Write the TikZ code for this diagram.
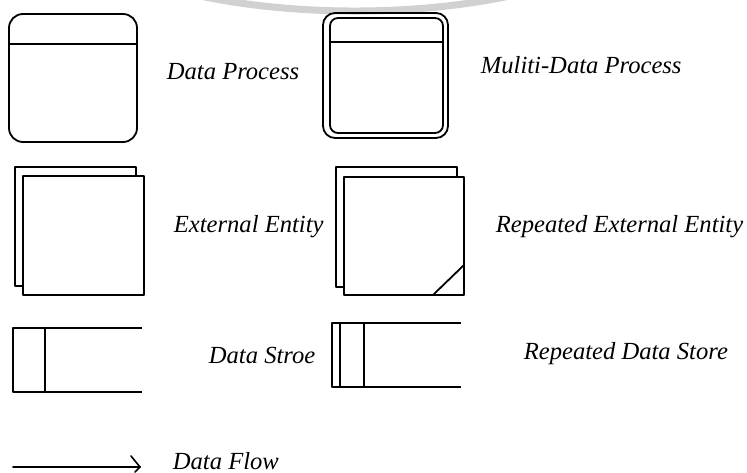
\documentclass[tikz,border=0pt]{standalone}
\usepackage{fontspec}
\setmainfont{Liberation Serif}
\begin{document}
\begin{tikzpicture}[x=1pt,y=-1pt,line width=1.8pt,line join=round,
  lbl/.style={font=\fontsize{24.6}{28}\selectfont\itshape,anchor=base west,inner sep=0pt},
  shapebox/.style={draw=black,fill=white}]
\useasboundingbox (0,0) rectangle (747,473);
\clip (0,0) rectangle (747,473);
% faint watermark arc
\draw[black!18,line width=7pt] (355,-80) ++(20:281 and 91) arc[start angle=20,end angle=160,x radius=281,y radius=91];
% Data Process
\draw[rounded corners=14pt] (9,14) rectangle (137,142);
\draw (9,44) -- (137,44);
\node[lbl] (tdp) at (166,80) {Data Process};
% Multi-Data Process
\draw[rounded corners=12pt] (323,13) rectangle (448,138);
\draw[rounded corners=8pt] (330,18) rectangle (443,133);
\draw (330,42) -- (443,42);
\node[lbl] (tmdp) at (480,74) {Muliti-Data Process};
% External Entity
\draw[shapebox] (15,167) rectangle (136,286);
\draw[shapebox] (23,176) rectangle (144,295);
\node[lbl] (tee) at (173,233) {External Entity};
% Repeated External Entity
\draw[shapebox] (336,167) rectangle (457,287);
\draw[shapebox] (344,177) rectangle (464,295);
\draw (433,295) -- (464,265);
\node[lbl] (tree) at (495,233) {Repeated External Entity};
% Data Store
\draw (142,328) -- (13,328) -- (13,392) -- (142,392);
\draw (45,328) -- (45,392);
\node[lbl] (tds) at (208,363) {Data Stroe};
% Repeated Data Store
\draw (461,323) -- (332,323) -- (332,387) -- (461,387);
\draw (340,323) -- (340,387);
\draw (364,323) -- (364,387);
\node[lbl] (trds) at (523,359) {Repeated Data Store};
% Data Flow
\coordinate (fa) at (13,467);
\coordinate (fb) at (140,467);
\draw[line width=1.6pt,line cap=round] (fa) -- (fb);
\draw[line width=1.6pt,line cap=round] (fb) -- ++(-9,-11);
\draw[line width=1.6pt,line cap=round] (fb) -- ++(-5,5);
\node[lbl] (tdf) at (172,469) {Data Flow};
\end{tikzpicture}
\end{document}
